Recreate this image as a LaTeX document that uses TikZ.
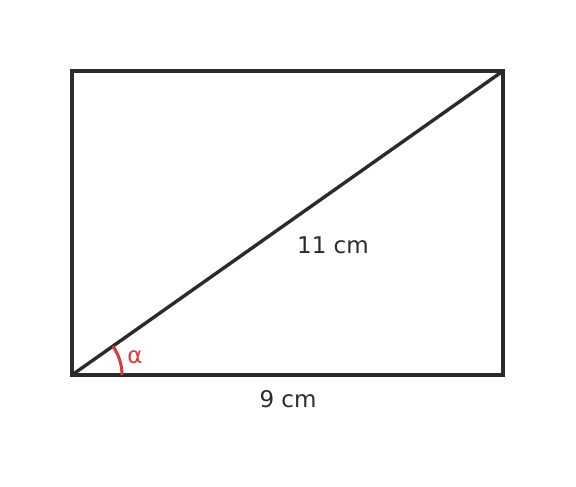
\documentclass[tikz,border=0pt]{standalone}
\usepackage{fontspec}
\setmainfont{DejaVu Sans}

\definecolor{edgegray}{HTML}{2B2B2B}
\definecolor{anglered}{HTML}{D63B3B}

\tikzset{
  edge/.style={draw=edgegray, line width=3.4pt},
  anglearc/.style={draw=anglered, line width=3pt},
  lbl/.style={text=edgegray, font=\fontsize{23}{27}\selectfont},
}

\begin{document}
\begin{tikzpicture}[x=1pt, y=1pt]
  \useasboundingbox (0,0) rectangle (576,487);

  % corners
  \coordinate (A) at (72,112);
  \coordinate (B) at (503,112);
  \coordinate (C) at (503,416);
  \coordinate (D) at (72,416);

  % rectangle and diagonal
  \draw[edge] (A) -- (B) -- (C) -- (D) -- cycle;
  \draw[edge] (A) -- (C);

  % angle
  \draw[anglearc] (A) ++(50,0) arc[start angle=0, end angle=35.2, radius=50];
  \node[lbl, text=anglered] (alpha) at (135,130) {α};

  % lengths
  \node[lbl] (diag) at (333,242) {11 cm};
  \node[lbl] (base) at (288,88) {9 cm};
\end{tikzpicture}
\end{document}
